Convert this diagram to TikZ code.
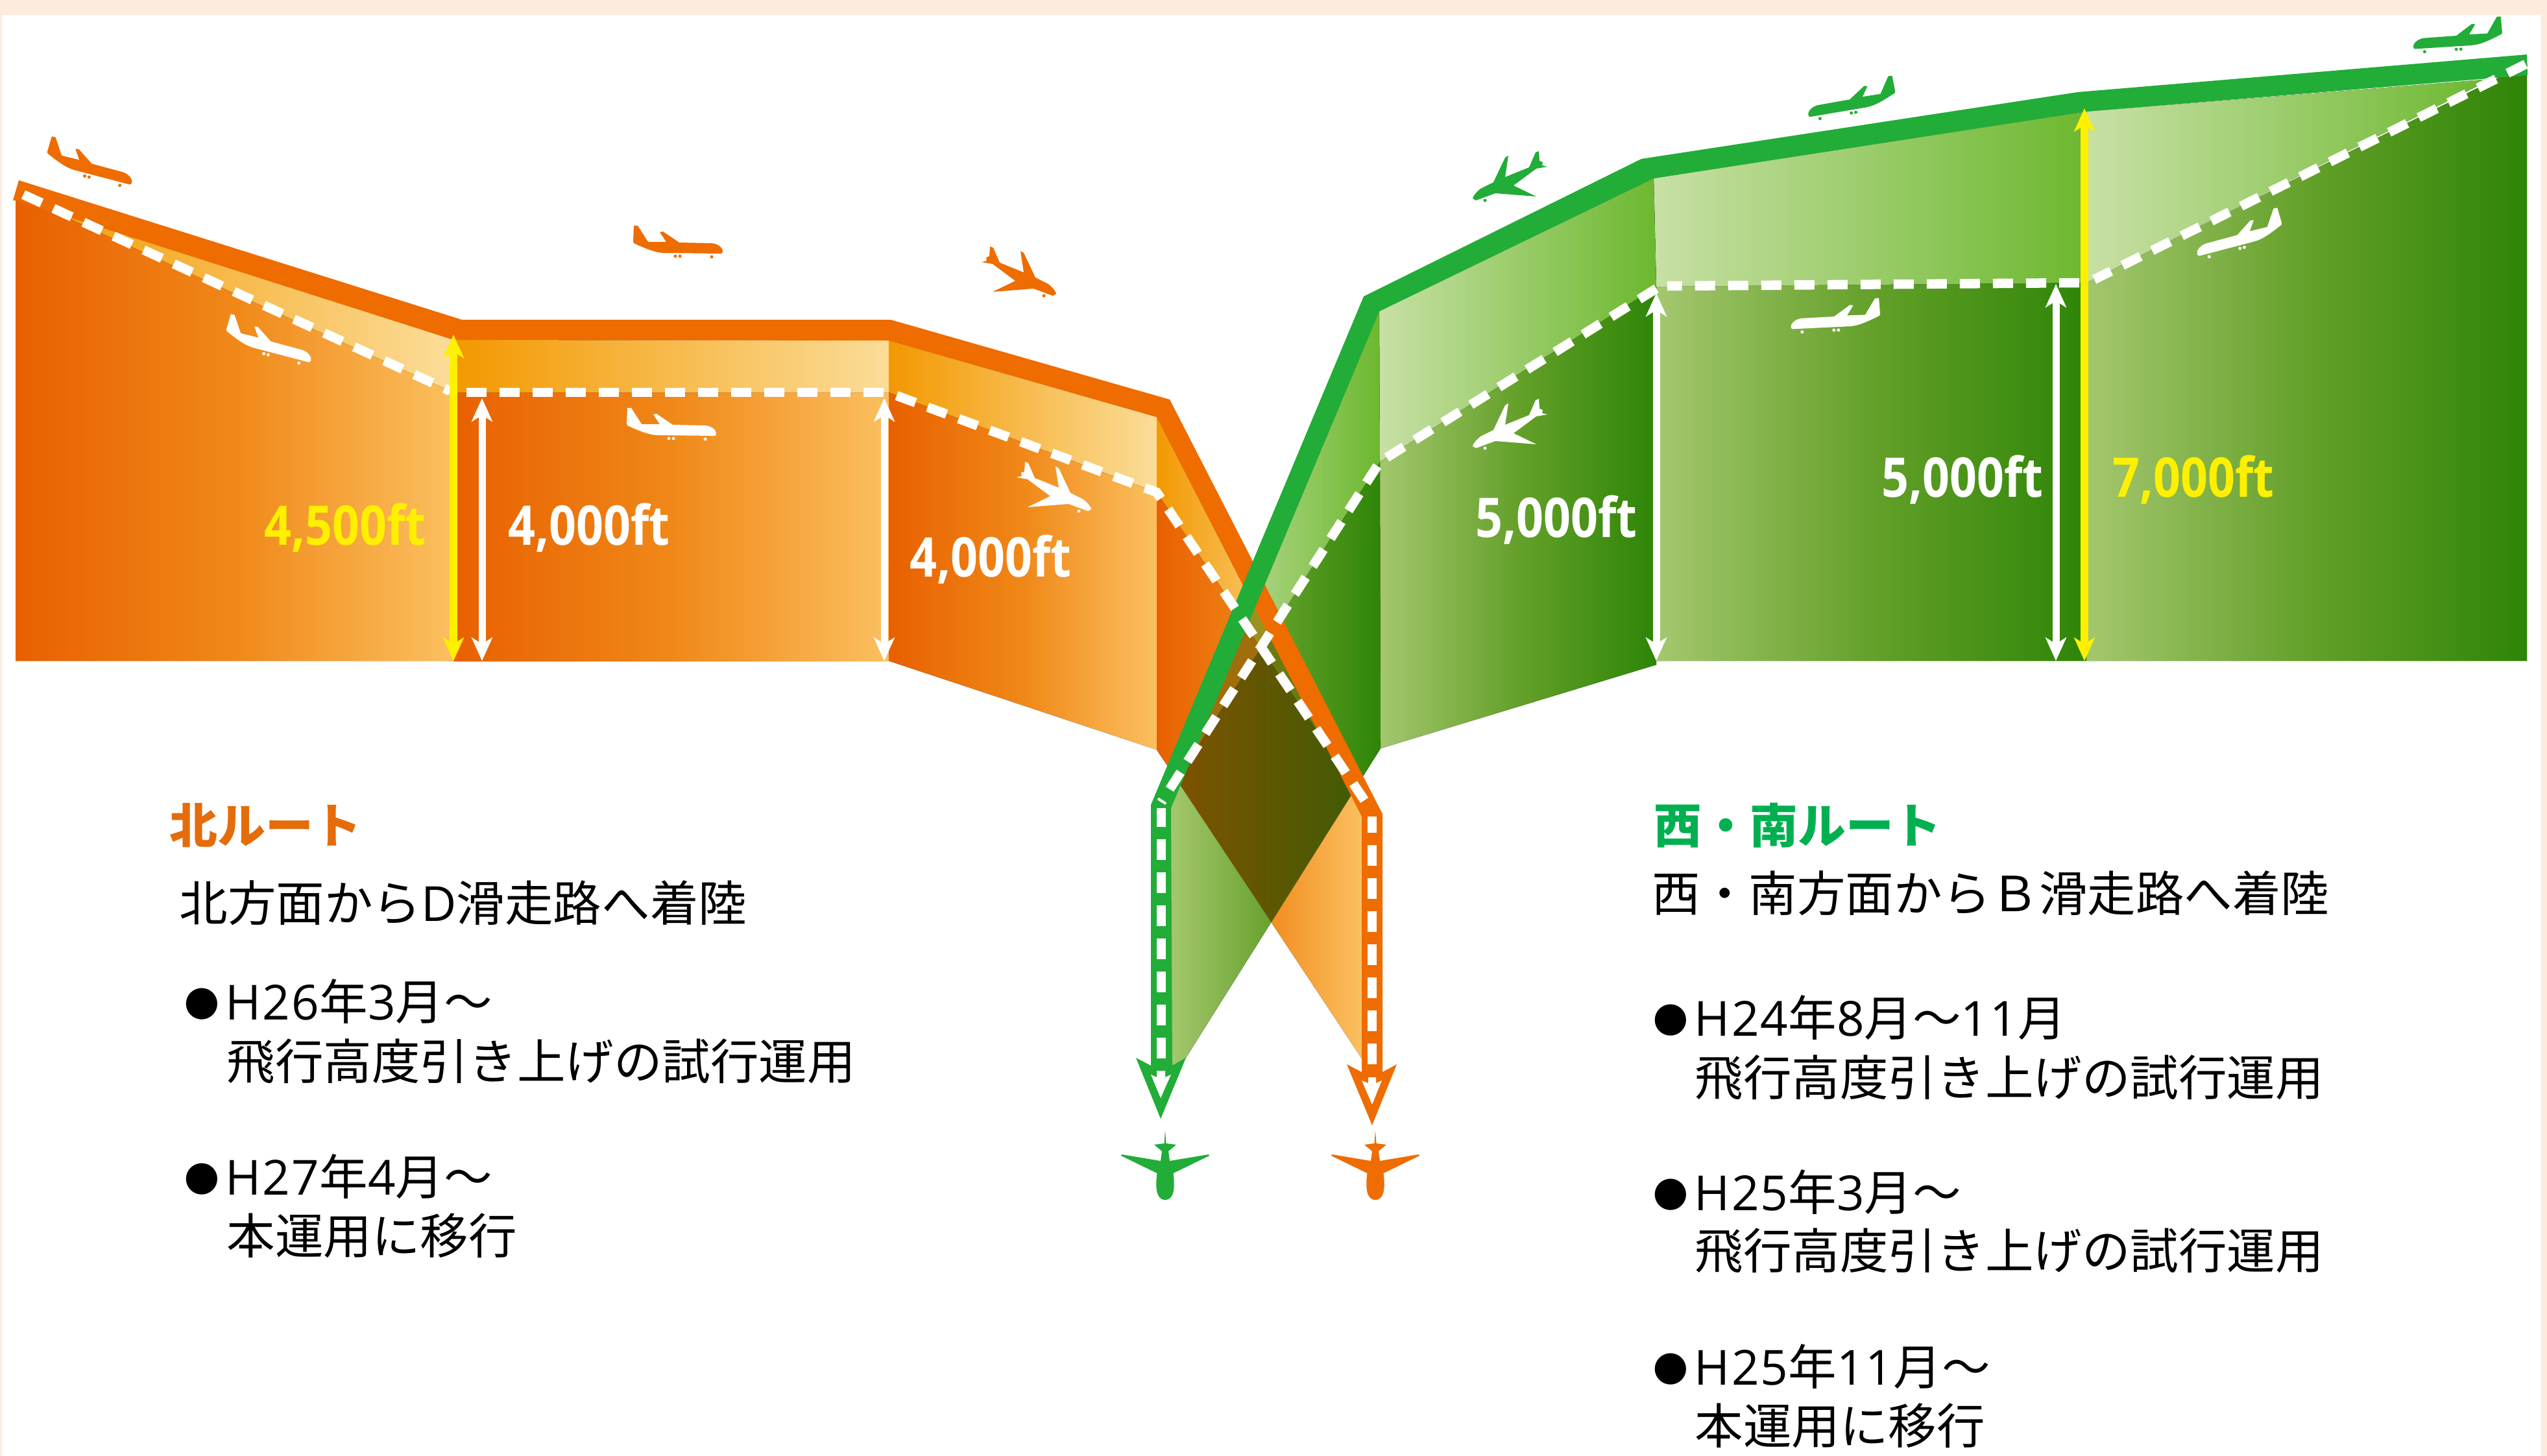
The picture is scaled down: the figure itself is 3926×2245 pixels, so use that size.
\documentclass[tikz,border=0pt]{standalone}
\usepackage{fontspec}
\setmainfont{Noto Sans CJK JP}
\newfontfamily\altfont{Open Sans}
\newfontfamily\latinfont[LetterSpace=3]{Open Sans}
\newcommand{\lat}[1]{{\latinfont #1}}
\newcommand{\itemdot}{\makebox[0.63cm][l]{\raisebox{0.04cm}{\scalebox{0.72}{●}}}}
\usetikzlibrary{arrows.meta}
\definecolor{bgpeach}{HTML}{FDEBDD}
\definecolor{routeorange}{HTML}{EE6C00}
\definecolor{routegreen}{HTML}{22AC38}
\definecolor{titleorange}{HTML}{E46C0A}
\definecolor{titlegreen}{HTML}{00B050}
\definecolor{markyellow}{HTML}{FFF000}
\definecolor{olow}{HTML}{E86000}
\definecolor{omid}{HTML}{F08818}
\definecolor{ohigh}{HTML}{FBC060}
\definecolor{owedge}{HTML}{F39800}
\definecolor{owedgehigh}{HTML}{FBDD99}
\definecolor{glow}{HTML}{A4C76E}
\definecolor{gmid}{HTML}{64A02A}
\definecolor{ghigh}{HTML}{2E8507}
\definecolor{gwedge}{HTML}{C8E0A5}
\definecolor{gwedgehigh}{HTML}{6CB82F}
\definecolor{darkleft}{HTML}{805200}
\definecolor{darkright}{HTML}{385C05}
\definecolor{crossbrown}{HTML}{A06E0A}
\definecolor{crossolive}{HTML}{9B9020}
\definecolor{crossmoss}{HTML}{6A7A10}
\tikzset{
    orangepanel/.style={left color=olow, right color=ohigh, middle color=omid, draw=none},
    orangewedge/.style={left color=owedge, right color=owedgehigh, draw=none},
    greenpanel/.style={left color=glow, right color=ghigh, middle color=gmid, draw=none},
    greenwedge/.style={left color=gwedge, right color=gwedgehigh, draw=none},
    dashline/.style={white, line width=1.45mm, dash pattern=on 3.1mm off 2mm},
    squareline/.style={white, line width=1.4mm, dash pattern=on 3.2mm off 1.9mm},
    updown/.style={draw=white, line width=1.1mm,
        {Stealth[length=3.6mm,width=3.2mm,inset=1mm]}-{Stealth[length=3.6mm,width=3.2mm,inset=1mm]}},
    upmark/.style={updown, draw=markyellow, line width=1.2mm},
    heightlabel/.style={anchor=base, inner sep=0, text=white, xscale=0.87, transform shape,
        font=\altfont\bfseries\fontsize{24}{24}\selectfont},
    routetitle/.style={anchor=base west, inner sep=0, font=\bfseries\fontsize{21}{21}\selectfont},
    routetext/.style={anchor=base west, inner sep=0, text=black, font=\fontsize{21.2}{21.2}\selectfont},
    sideplane/.pic={
        \path[pic actions] (-69,0) -- (-68,-24) -- (-62,-24) -- (-46,1) -- (-18,1) -- (-28,-14)
            -- (-23,-15) -- (2,2) -- (52,3) .. controls (63,4) and (69,11) .. (69,15)
            .. controls (69,18) and (68,19) .. (66,19) -- (-18,18)
            .. controls (-30,18) and (-40,16) .. (-68,3) -- cycle;
        \path[pic actions] (-4,23) circle (2.5) (3,23) circle (2.5) (52,24) circle (2.5);
    },
    bankplane/.pic={
        \path[pic actions] (-60,-16) -- (-52,-18) -- (-53,-23) -- (-48,-25) -- (-47,-40) -- (-42,-38)
            -- (-32,-15) -- (5,0) -- (0,-33) -- (5,-30) -- (23,8) -- (43,18)
            .. controls (50,24) and (55,30) .. (55,33) -- (50,36) -- (20,25) -- (-43,30)
            -- (-8,13) -- (-43,-13) -- cycle;
        \path[pic actions] (36,36) circle (2.5);
    },
    topplane/.pic={
        \path[pic actions] (0,0) -- (1.5,20) -- (17,22) -- (5,32) -- (7,47) -- (67,37) -- (68,39) -- (12.5,66)
            .. controls (15,85) and (15,107) .. (0,107) .. controls (-15,107) and (-15,85) .. (-12.5,66)
            -- (-68,39) -- (-67,37) -- (-7,47) -- (-5,32) -- (-17,22) -- (-1.5,20) -- cycle;
    },
}

\begin{document}
\begin{tikzpicture}[x=0.01cm,y=-0.01cm]
    % frame
    \fill[bgpeach] (0,0) rectangle (3926,2245);
    \fill[white] (3,23) rectangle (3917,2245);
    \useasboundingbox (0,0) rectangle (3926,2245);

    % north route panels
    \fill[orangepanel] (24,295) -- (699,605) -- (699,1019) -- (24,1019) -- cycle;
    \fill[orangewedge] (25,300) -- (699,524) -- (699,605) -- cycle;
    \fill[orangepanel] (699,605) -- (1370,605) -- (1370,1019) -- (699,1019) -- cycle;
    \fill[orangewedge] (699,524) -- (1370,525) -- (1370,605) -- (699,605) -- cycle;
    \fill[orangepanel] (1370,605) -- (1783,759) -- (1783,1156) -- (1370,1019) -- cycle;
    \fill[orangewedge] (1370,525) -- (1783,643) -- (1783,759) -- (1370,605) -- cycle;
    \fill[orangepanel] (1783,759) -- (2099,1228) -- (2099,1632) -- (1783,1156) -- cycle;
    \fill[orangewedge] (1783,643) -- (2030,1124) -- (1783,759) -- cycle;

    % west and south route panels
    \fill[greenpanel] (3216,436) -- (3895,98) -- (3895,1019) -- (3216,1019) -- cycle;
    \fill[greenwedge] (3216,172) -- (3840,122) -- (3216,436) -- cycle;
    \fill[greenpanel] (2553,442) -- (3216,436) -- (3216,1019) -- (2553,1019) -- cycle;
    \fill[greenwedge] (2549,275) -- (3216,172) -- (3216,436) -- (2553,442) -- cycle;
    \fill[greenpanel] (2127,712) -- (2553,442) -- (2553,1025) -- (2128,1154) -- cycle;
    \fill[greenwedge] (2126,480) -- (2549,275) -- (2553,442) -- (2127,712) -- cycle;
    \fill[greenpanel] (2127,712) -- (1805,1214) -- (1805,1645) -- (1828,1631) -- (2128,1154) -- cycle;
    \fill[greenwedge] (2126,480) -- (2127,712) -- (1846,1148) -- cycle;

    % overlaps at the crossing
    \begin{scope}
        \clip (1783,759) -- (2099,1228) -- (2099,1632) -- (1783,1156) -- cycle;
        \shade[left color=darkleft, right color=darkright]
            (2127,712) -- (1805,1214) -- (1805,1645) -- (1828,1631) -- (2128,1154) -- cycle;
        \fill[crossbrown] (2126,480) -- (2127,712) -- (1846,1148) -- cycle;
    \end{scope}
    \begin{scope}
        \clip (1783,643) -- (2030,1124) -- (1783,759) -- cycle;
        \fill[crossolive] (2126,480) -- (2127,712) -- (1846,1148) -- cycle;
        \fill[crossmoss] (2127,712) -- (1805,1214) -- (1805,1645) -- (2128,1154) -- cycle;
    \end{scope}

    % route bands with their arrow heads
    \fill[routeorange] (29,278) -- (712,493) -- (1373,493) -- (1803,616) -- (2131,1255) -- (2131,1653)
        -- (2153,1641) -- (2115,1735) -- (2076,1641) -- (2099,1653) -- (2099,1259) -- (1783,643)
        -- (1370,525) -- (699,524) -- (25,309) -- (20,309) -- cycle;
    \fill[routegreen] (3895,84) -- (3203,142) -- (2530,245) -- (2102,457) -- (1774,1241) -- (1774,1643)
        -- (1751,1631) -- (1789,1725) -- (1828,1631) -- (1807,1643) -- (1805,1246) -- (2126,480)
        -- (2549,275) -- (3216,172) -- (3896,116) -- cycle;
    \fill[white] (2109,1661) -- (2121,1661) -- (2121,1670) -- (2130,1666) -- (2115,1703) -- (2099,1666) -- (2109,1670) -- cycle;
    \fill[white] (1783,1651) -- (1796,1651) -- (1796,1661) -- (1805,1657) -- (1789,1693) -- (1774,1657) -- (1783,1661) -- cycle;

    % dashed courses
    \coordinate (oa) at (36,300);
    \coordinate (ob) at (694,603);
    \coordinate (oc) at (719,605);
    \coordinate (od) at (1366,605);
    \coordinate (oe) at (1382,610);
    \coordinate (of) at (1783,759);
    \coordinate (og) at (2114,1250);
    \coordinate (oh) at (2115,1641);
    \coordinate (oi) at (2115,1259);
    \coordinate (ga) at (3893,99);
    \coordinate (gb) at (3228,431);
    \coordinate (gc) at (3205,436);
    \coordinate (gd) at (2570,441);
    \coordinate (ge) at (2553,445);
    \coordinate (gf) at (2127,712);
    \coordinate (gg) at (1790,1237);
    \coordinate (gh) at (1790,1632);
    \coordinate (gi) at (1790,1246);
    \draw[dashline] (oa) -- (ob);
    \draw[dashline] (oc) -- (od);
    \draw[dashline] (oe) -- (of) -- (og);
    \draw[squareline] (oh) -- (oi);
    \draw[dashline] (ga) -- (gb);
    \draw[dashline] (gc) -- (gd);
    \draw[dashline] (ge) -- (gf) -- (gg);
    \draw[squareline] (gh) -- (gi);

    % height arrows
    \coordinate (ya) at (699,516);
    \coordinate (yb) at (699,1019);
    \coordinate (yc) at (3213,167);
    \coordinate (yd) at (3213,1019);
    \coordinate (wa) at (743,614);
    \coordinate (wb) at (743,1019);
    \coordinate (wc) at (1363,614);
    \coordinate (wd) at (1363,1019);
    \coordinate (we) at (2553,452);
    \coordinate (wf) at (2553,1019);
    \coordinate (wg) at (3169,438);
    \coordinate (wh) at (3169,1019);
    \draw[upmark] (ya) -- (yb);
    \draw[upmark] (yc) -- (yd);
    \draw[updown] (wa) -- (wb);
    \draw[updown] (wc) -- (wd);
    \draw[updown] (we) -- (wf);
    \draw[updown] (wg) -- (wh);

    % planes
    \pic[fill=routeorange, rotate=-14] at (140,250) {sideplane};
    \pic[fill=routeorange] at (1045,372) {sideplane};
    \pic[fill=routeorange] at (1573,420) {bankplane};
    \pic[fill=white, rotate=-14] at (416,524) {sideplane};
    \pic[fill=white] at (1035,653) {sideplane};
    \pic[fill=white] at (1627,752) {bankplane};
    \pic[fill=routegreen, xscale=-1] at (2325,273) {bankplane};
    \pic[fill=routegreen, rotate=9, xscale=-1] at (2853,151) {sideplane};
    \pic[fill=routegreen, rotate=3, xscale=-1] at (3788,53) {sideplane};
    \pic[fill=white, xscale=-1] at (2325,655) {bankplane};
    \pic[fill=white, rotate=2, xscale=-1] at (2829,486) {sideplane};
    \pic[fill=white, rotate=14, xscale=-1] at (3450,360) {sideplane};
    \pic[fill=routegreen] at (1796,1743) {topplane};
    \pic[fill=routeorange] at (2120,1743) {topplane};

    % heights
    \node[heightlabel, text=markyellow] (h45) at (532,840) {4,500ft};
    \node[heightlabel] (h40a) at (908,840) {4,000ft};
    \node[heightlabel] (h40b) at (1527,889) {4,000ft};
    \node[heightlabel] (h50a) at (2399,828) {5,000ft};
    \node[heightlabel] (h50b) at (3025,766) {5,000ft};
    \node[heightlabel, text=markyellow] (h70) at (3381,766) {7,000ft};

    % north route text
    \node[routetitle, text=titleorange] (ntitle) at (261,1300) {北ルート};
    \node[routetext] (nsub) at (276,1420) {北方面から\lat{D}滑走路へ着陸};
    \node[routetext] (na) at (284,1572) {\itemdot\lat{H26}年\lat{3}月～};
    \node[routetext] (nb) at (349,1664) {飛行高度引き上げの試行運用};
    \node[routetext] (nc) at (284,1842) {\itemdot\lat{H27}年\lat{4}月～};
    \node[routetext] (nd) at (349,1933) {本運用に移行};

    % west and south route text
    \node[routetitle, text=titlegreen] (stitle) at (2549,1300) {西・南ルート};
    \node[routetext] (ssub) at (2546,1405) {西・南方面からＢ滑走路へ着陸};
    \node[routetext] (sa) at (2548,1597) {\itemdot\lat{H24}年\lat{8}月～\lat{11}月};
    \node[routetext] (sb) at (2612,1689) {飛行高度引き上げの試行運用};
    \node[routetext] (sc) at (2548,1866) {\itemdot\lat{H25}年\lat{3}月～};
    \node[routetext] (sd) at (2612,1956) {飛行高度引き上げの試行運用};
    \node[routetext] (se) at (2548,2135) {\itemdot\lat{H25}年\lat{11}月～};
    \node[routetext] (sf) at (2612,2226) {本運用に移行};
\end{tikzpicture}
\end{document}
